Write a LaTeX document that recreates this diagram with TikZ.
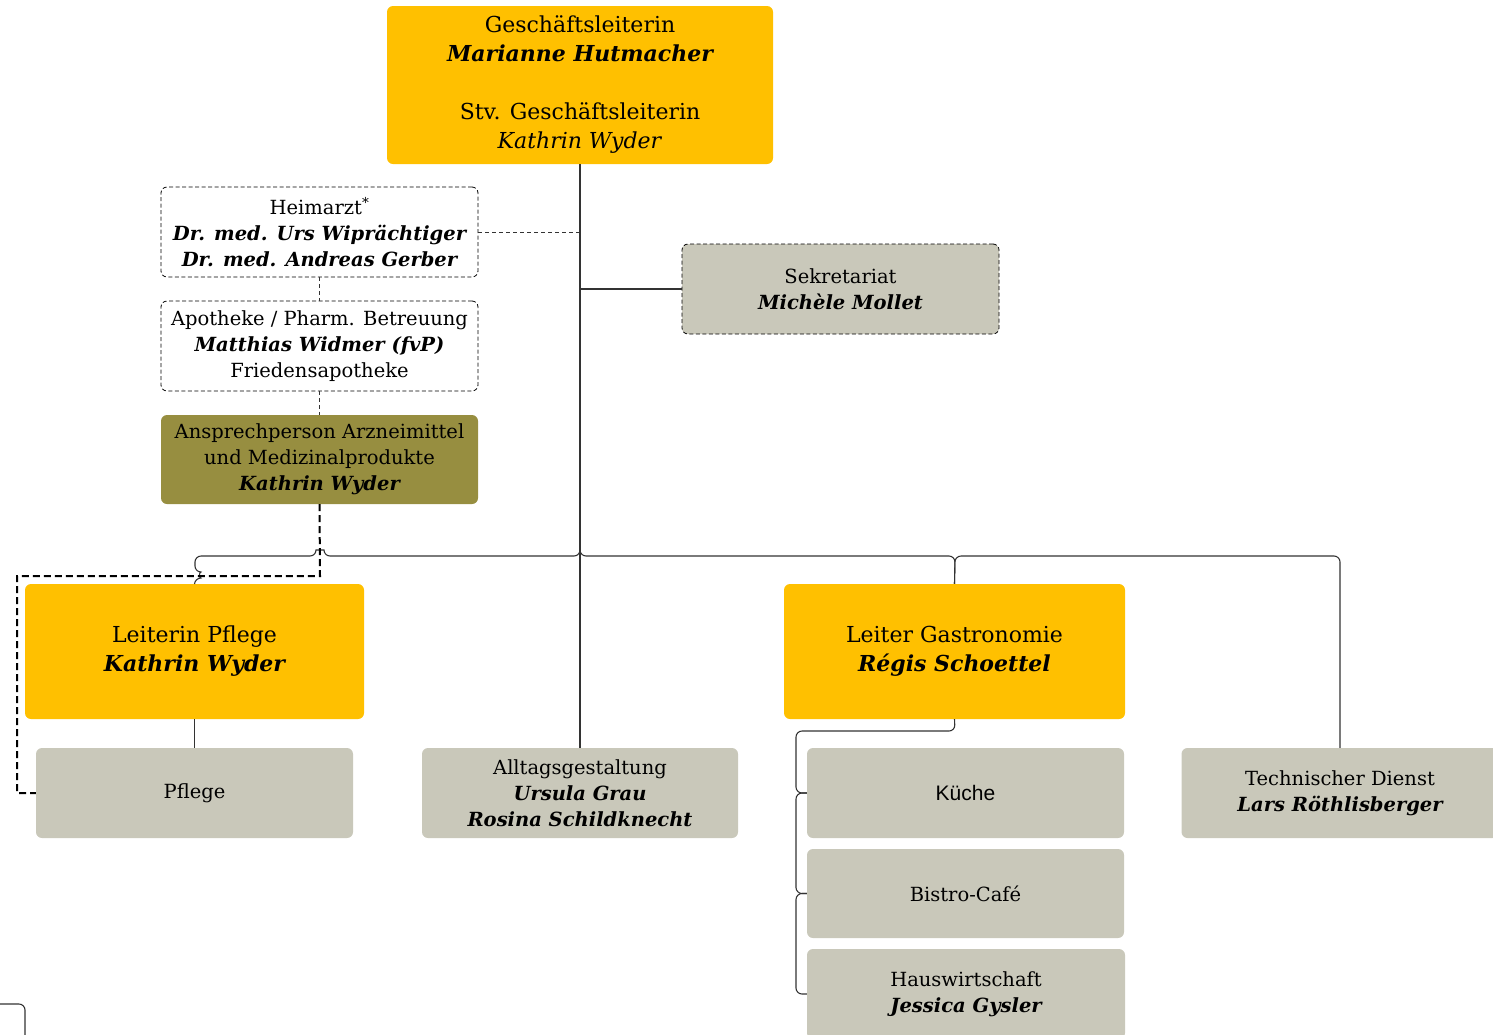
\documentclass[tikz,border=0pt]{standalone}
\usepackage{fontspec}
\setmainfont{DejaVu Serif}
\newfontfamily\kuefont{Liberation Sans}
\definecolor{amber}{HTML}{FFC000}
\definecolor{greybox}{HTML}{C9C8BA}
\definecolor{olivebox}{HTML}{978E40}
\definecolor{lineclr}{HTML}{333333}
\newcommand{\nm}[1]{{\bfseries\itshape #1}}
\begin{document}
\begin{tikzpicture}[x=1pt,y=-1pt,
  box/.style={rectangle, rounded corners=6pt, align=center, inner sep=0pt,
    minimum width=317pt, minimum height=90pt, font=\fontsize{19.5}{26}\selectfont},
  bigbox/.style={box, fill=amber, font=\fontsize{22}{29}\selectfont},
  greyb/.style={box, fill=greybox},
  dashb/.style={box, draw=black, dashed, dash pattern=on 4pt off 2.5pt, line width=0.8pt},
  conn/.style={draw=lineclr, line width=1.1pt, rounded corners=6pt},
  dconn/.style={draw=lineclr, line width=1pt, dash pattern=on 4pt off 3pt},
  tdconn/.style={draw=black, line width=2pt, dash pattern=on 7pt off 4pt}]
\useasboundingbox (0,0) rectangle (1493,1034);

\node[bigbox, minimum width=386pt, minimum height=158pt] (top) at (580,85)
  {Geschäftsleiterin\\ \nm{Marianne Hutmacher}\\ \mbox{}\\ Stv. Geschäftsleiterin\\ \textit{Kathrin Wyder}};
\node[dashb, fill=white] (heim) at (319.5,232)
  {Heimarzt\textsuperscript{*}\\ \nm{Dr. med. Urs Wiprächtiger}\\ \nm{Dr. med. Andreas Gerber}};
\node[dashb, fill=white] (apo) at (319.5,346)
  {Apotheke / Pharm. Betreuung\\ \nm{Matthias Widmer (fvP)}\\ Friedensapotheke};
\node[box, fill=olivebox, minimum height=89pt] (ansp) at (319.5,459.5)
  {Ansprechperson Arzneimittel\\ und Medizinalprodukte\\ \nm{Kathrin Wyder}};
\node[dashb, fill=greybox] (sek) at (840.5,289)
  {Sekretariat\\ \nm{Michèle Mollet}};
\node[bigbox, minimum width=339pt, minimum height=135pt] (lp) at (194.5,651.5)
  {Leiterin Pflege\\ \nm{Kathrin Wyder}};
\node[greyb] (pfl) at (194.5,793) {Pflege};
\node[greyb, minimum width=316pt] (allt) at (580,793)
  {Alltagsgestaltung\\ \nm{Ursula Grau}\\ \nm{Rosina Schildknecht}};
\node[bigbox, minimum width=341pt, minimum height=135pt] (lg) at (954.5,651.5)
  {Leiter Gastronomie\\ \nm{Régis Schoettel}};
\node[greyb] (kue) at (965.5,793) {\kuefont\fontsize{21}{26}\selectfont Küche};
\node[greyb, minimum height=89pt] (bis) at (965.5,893.5) {Bistro-Café};
\node[greyb, minimum width=318pt] (hw) at (966,994)
  {Hauswirtschaft\\ \nm{Jessica Gysler}};
\node[greyb] (td) at (1340,793)
  {Technischer Dienst\\ \nm{Lars Röthlisberger}};

% main vertical
\draw[conn] (top.south) -- (allt.north);
% dashed links
\draw[dconn] (heim.east) -- (heim.east -| top.south);
\draw[dconn] (heim.south) -- (apo.north);
\draw[dconn] (apo.south) -- (ansp.north);
\draw[conn] (sek.west -| top.south) -- (sek.west);
% bus left with hop
\coordinate (busL) at (580,556);
\draw[conn] (580,540) -- (busL) -- (324,556) .. controls (324,550) and (316,550) .. (316,556)
  -- (195,556) -- (195,572) .. controls (199,572) and (199,578) .. (195,578) -- (lp.north);
% bus right
\draw[conn] (580,540) -- (busL) -- (955,556) -- (lg.north);
\draw[conn] (lg.north) -- (955,556) -- (1340,556) -- (td.north);
% Pflege
\draw[conn] (lp.south) -- (pfl.north);
% Gastronomie sub-branches
\draw[conn] (lg.south) -- (955,731) -- (796,731) -- (796,793) -- (kue.west);
\draw[conn] (kue.west) -- (796,793) -- (796,893.5) -- (bis.west);
\draw[conn] (bis.west) -- (796,893.5) -- (796,994) -- (hw.west);
% thick dashed
\draw[tdconn] (ansp.south) -- (320,576) -- (17,576) -- (17,793) -- (pfl.west);
% fragment bottom-left
\draw[conn] (0,1004) -- (25,1004) -- (25,1040);
\end{tikzpicture}
\end{document}
